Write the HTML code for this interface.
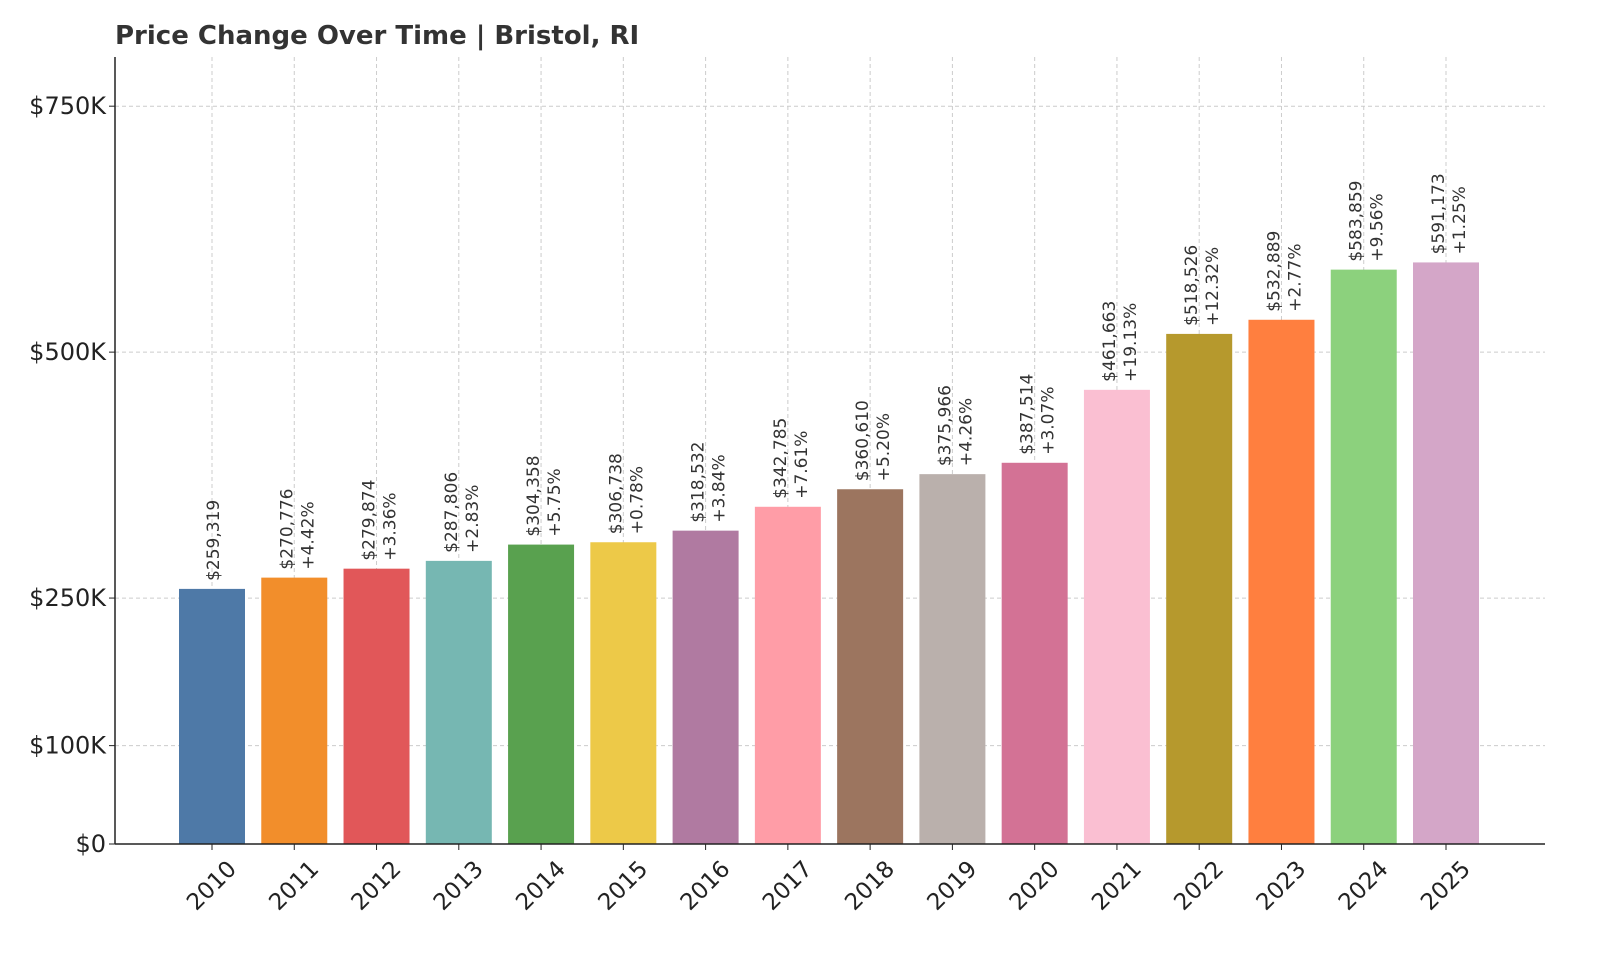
<!DOCTYPE html>
<html><head><meta charset="utf-8"><style>
html,body{margin:0;padding:0;background:#fff;}
svg{display:block;font-family:"DejaVu Sans","Liberation Sans",sans-serif;}
</style></head><body>
<svg id="chart" width="1600" height="960" viewBox="0 0 1600 960">
<text x="115" y="44" font-size="26" font-weight="bold" fill="#333">Price Change Over Time | Bristol, RI</text>
<g id="grid"></g><g id="bars"></g><g id="labels"></g><g id="axes"></g>
</svg>
<script>
const years=["2010","2011","2012","2013","2014","2015","2016","2017","2018","2019","2020","2021","2022","2023","2024","2025"];
const prices=[259319,270776,279874,287806,304358,306738,318532,342785,360610,375966,387514,461663,518526,532889,583859,591173];
const changes=["","+4.42%","+3.36%","+2.83%","+5.75%","+0.78%","+3.84%","+7.61%","+5.20%","+4.26%","+3.07%","+19.13%","+12.32%","+2.77%","+9.56%","+1.25%"];
const yTicks=[0,100000,250000,500000,750000];
const yTickLabels=["$0","$100K","$250K","$500K","$750K"];
const colors=["#4e79a7","#f28e2b","#e15759","#76b7b2","#59a14f","#edc948","#b07aa1","#ff9da7","#9c755f","#bab0ac","#d37295","#fabfd2","#b6992d","#ff7f3f","#8cd17d","#d4a6c8"];
const NS="http://www.w3.org/2000/svg";
const X0=115,X1=1545,Y0=844,Y1=57,YMAX=800000;
const y=v=>Y0-(v/YMAX)*(Y0-Y1);
const step=(1446-212)/(years.length-1);
const x=i=>212+i*step;
const bw=66;
function mk(tag,attrs,parent){const e=document.createElementNS(NS,tag);for(const k in attrs)e.setAttribute(k,attrs[k]);parent.appendChild(e);return e;}
const grid=document.getElementById('grid'),bars=document.getElementById('bars'),labels=document.getElementById('labels'),axes=document.getElementById('axes');
yTicks.forEach((t,i)=>{
  const l=mk('line',{x1:X0,x2:X1,y1:y(t),y2:y(t),stroke:'#ccc','stroke-dasharray':'4,3','stroke-width':1},grid);
  
  
  mk('line',{x1:X0-6,x2:X0,y1:y(t),y2:y(t),stroke:'#222'},axes);
  const tx=mk('text',{x:X0-9,y:y(t)+8,'text-anchor':'end','font-size':24,fill:'#222'},axes);
  tx.textContent=yTickLabels[i];
  
  
});
years.forEach((yr,i)=>{
  const cx=x(i);
  const g=mk('line',{x1:cx,x2:cx,y1:Y1,y2:Y0,stroke:'#ccc','stroke-dasharray':'4,3'},grid);
  
  
  const r=mk('rect',{x:cx-bw/2,y:y(prices[i]),width:bw,height:Y0-y(prices[i]),fill:colors[i]},bars);
  
  
  const top=y(prices[i])-8;
  const pt=mk('text',{transform:`translate(${changes[i]?cx-2:cx+7},${top}) rotate(-90)`,'font-size':17,fill:'#333'},labels);
  pt.textContent='$'+prices[i].toLocaleString('en-US');
  
  
  if(changes[i]){
    const ct=mk('text',{transform:`translate(${cx+19},${top}) rotate(-90)`,'font-size':17,fill:'#333'},labels);
    ct.textContent=changes[i];
    
    
  }
  mk('line',{x1:cx,x2:cx,y1:Y0,y2:Y0+6,stroke:'#222'},axes);
  const xt=mk('text',{transform:`translate(${cx},${886}) rotate(-45)`,'text-anchor':'middle','dominant-baseline':'central','font-size':23,fill:'#222'},axes);
  xt.textContent=yr;
  
  
});
const ya=mk('line',{x1:X0,x2:X0,y1:Y1,y2:Y0,stroke:'#222','stroke-width':1.5},axes);


const xa=mk('line',{x1:X0,x2:X1,y1:Y0,y2:Y0,stroke:'#222','stroke-width':1.5},axes);


</script>
</body></html>
